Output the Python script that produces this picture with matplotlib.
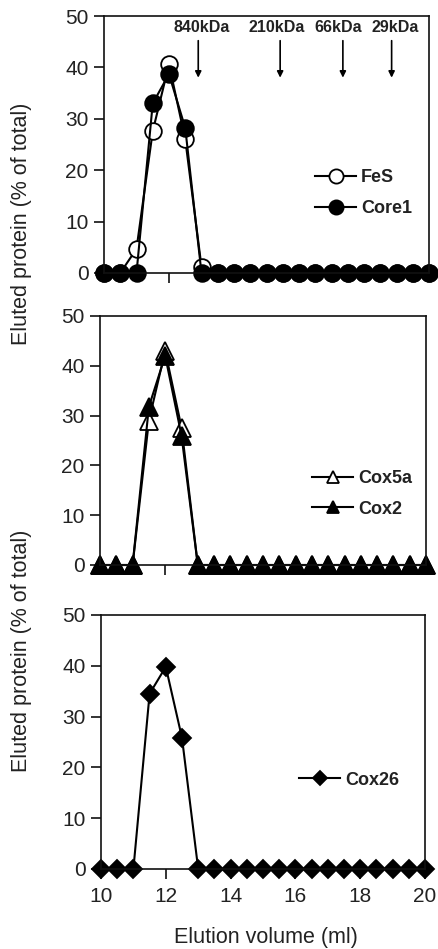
import matplotlib
matplotlib.use("Agg")
import matplotlib.pyplot as plt
import numpy as np

plt.rcParams['font.family'] = ['Liberation Sans', 'DejaVu Sans']

# ---- data ----
volume = [10, 10.5, 11, 11.5, 12, 12.5, 13, 13.5, 14, 14.5, 15, 15.5, 16,
          16.5, 17, 17.5, 18, 18.5, 19, 19.5, 20]
fes   = [0, 0, 4.7, 27.6, 40.6, 26.0, 1.2, 0, 0, 0, 0, 0, 0, 0, 0, 0, 0, 0, 0, 0, 0]
core1 = [0, 0, 0, 33.0, 38.7, 28.2, 0, 0, 0, 0, 0, 0, 0, 0, 0, 0, 0, 0, 0, 0, 0]
cox5a = [0, 0, 0, 29.0, 43.0, 27.6, 0, 0, 0, 0, 0, 0, 0, 0, 0, 0, 0, 0, 0, 0, 0]
cox2  = [0, 0, 0, 31.8, 42.0, 26.0, 0, 0, 0, 0, 0, 0, 0, 0, 0, 0, 0, 0, 0, 0, 0]
cox26 = [0, 0, 0, 34.5, 39.8, 25.8, 0, 0, 0, 0, 0, 0, 0, 0, 0, 0, 0, 0, 0, 0, 0]

marker_labels = ['840kDa', '210kDa', '66kDa', '29kDa']
marker_pos = [12.9, 15.42, 17.35, 18.85]
label_pos = [13.0, 15.3, 17.2, 18.95]

yticks = [0, 10, 20, 30, 40, 50]
xticks = [10, 12, 14, 16, 18, 20]

TXT = '#222222'

fig = plt.figure(figsize=(4.38, 9.49), dpi=100)
W, H = 438, 949

def add_ax(l, r, t, b):
    return fig.add_axes([l / W, 1 - b / H, (r - l) / W, (b - t) / H])

ax1 = add_ax(104, 429, 16, 273)
ax2 = add_ax(100, 426, 316, 565)
ax3 = add_ax(101, 425, 615, 869)

for ax in (ax1, ax2, ax3):
    ax.set_xlim(10, 20)
    ax.set_ylim(0, 50)
    ax.set_yticks(yticks)
    for s in ax.spines.values():
        s.set_linewidth(1.2)
        s.set_color('#111111')
    ax.tick_params(axis='both', direction='out', length=7, width=1.2,
                   labelsize=15, labelcolor=TXT, pad=4, color='#111111')
    ax.patch.set_alpha(0)

for ax in (ax1, ax2):
    ax.set_xticks([12])
    ax.set_xticklabels([])
ax3.set_xticks(xticks)
ax3.tick_params(axis='x', pad=6)

lw = 1.5
kw = dict(color='black', lw=lw, clip_on=False, markeredgecolor='black',
          markeredgewidth=1.3)

ax1.plot(volume, fes, marker='o', ms=12, markerfacecolor='white', label='FeS', **kw)
ax1.plot(volume, core1, marker='o', ms=12, markerfacecolor='black', label='Core1', **kw)
ax2.plot(volume, cox5a, marker='^', ms=12.5, markerfacecolor='white', label='Cox5a', **kw)
ax2.plot(volume, cox2, marker='^', ms=12.5, markerfacecolor='black', label='Cox2', **kw)
ax3.plot(volume, cox26, marker='D', ms=9, markerfacecolor='black', label='Cox26', **kw)

legkw = dict(frameon=False, loc='center left', borderpad=0, borderaxespad=0,
             handlelength=2.3, handletextpad=0.25, labelspacing=0.75,
             prop={'weight': 'bold', 'size': 13}, labelcolor=TXT)
ax1.legend(bbox_to_anchor=(0.649, 0.311), markerscale=0.85, **legkw)
ax2.legend(bbox_to_anchor=(0.650, 0.285), markerscale=0.7, **legkw)
ax3.legend(bbox_to_anchor=(0.611, 0.350), markerscale=0.75, **legkw)

for lab, lx, mx in zip(marker_labels, label_pos, marker_pos):
    ax1.text(lx, 47.7, lab, ha='center', va='center', fontsize=11.5,
             fontweight='bold', color=TXT)
    ax1.annotate('', xy=(mx, 38.0), xytext=(mx, 45.2),
                 arrowprops=dict(arrowstyle='-|>', color='black', lw=1.2,
                                 mutation_scale=9, shrinkA=0, shrinkB=0))

fig.text(22 / W, 1 - 224 / H, 'Eluted protein (% of total)', rotation=90,
         ha='center', va='center', fontsize=15.5, color=TXT)
fig.text(22 / W, 1 - 651 / H, 'Eluted protein (% of total)', rotation=90,
         ha='center', va='center', fontsize=15.5, color=TXT)
fig.text(266 / W, 1 - 938 / H, 'Elution volume (ml)', ha='center', va='center',
         fontsize=15.5, color=TXT)

fig.savefig('out.png', dpi=100)
